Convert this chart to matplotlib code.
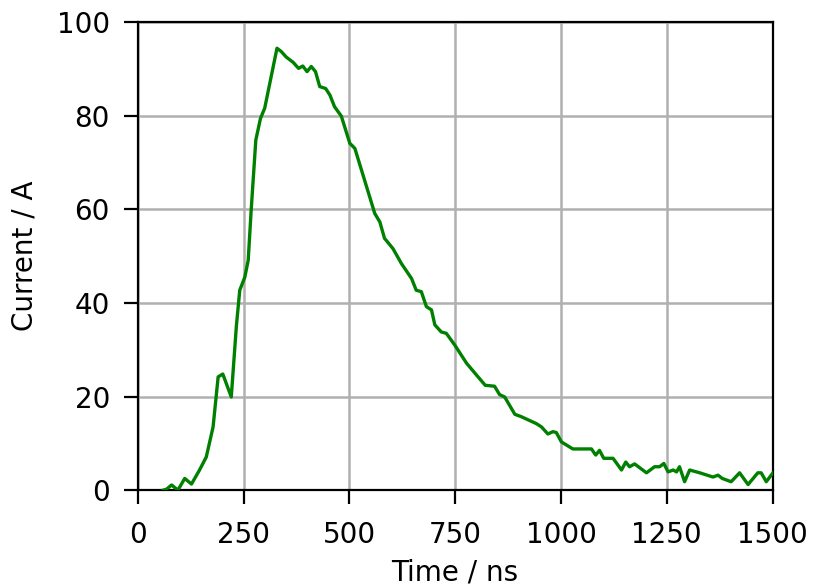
import numpy as np
import matplotlib
matplotlib.use("Agg")
import matplotlib.pyplot as plt

# pulse current
time_ns = [60, 68, 80, 95, 111, 127, 146, 162, 178, 190, 201, 221, 233, 241, 253,
           261, 268, 279, 290, 300, 312, 329, 339, 351, 367, 380, 390, 400, 410,
           420, 430, 444, 454, 465, 481, 501, 513, 536, 560, 572, 583, 603, 623,
           647, 658, 670, 682, 694, 702, 717, 729, 749, 777, 804, 821, 843, 855,
           867, 891, 906, 942, 954, 969, 981, 989, 1001, 1028, 1072, 1082, 1091,
           1101, 1123, 1143, 1153, 1162, 1174, 1202, 1221, 1233, 1243, 1253, 1265,
           1273, 1280, 1292, 1304, 1328, 1359, 1371, 1381, 1402, 1422, 1442, 1465,
           1473, 1485, 1500]
current_a = [0.0, 0.2, 1.1, 0.0, 2.5, 1.3, 4.3, 7.1, 13.5, 24.2, 24.8, 19.9, 35.0,
             42.7, 45.5, 49.1, 59.8, 74.8, 79.4, 81.6, 86.9, 94.4, 93.7, 92.5, 91.4,
             90.1, 90.6, 89.4, 90.5, 89.4, 86.2, 85.8, 84.4, 81.9, 79.9, 74.1, 73.0,
             66.2, 59.1, 57.3, 53.8, 51.6, 48.4, 45.2, 42.7, 42.4, 39.2, 38.5, 35.3,
             33.8, 33.5, 31.0, 27.1, 24.2, 22.4, 22.2, 20.4, 19.9, 16.2, 15.7, 14.2,
             13.5, 12.0, 12.5, 12.3, 10.3, 8.8, 8.8, 7.5, 8.5, 6.8, 6.8, 4.3, 6.0,
             5.0, 5.6, 3.7, 5.0, 5.0, 5.7, 3.9, 4.3, 3.9, 5.0, 1.8, 4.3, 3.7, 2.8,
             3.2, 2.5, 1.8, 3.7, 1.2, 3.7, 3.7, 1.8, 3.6]

fig = plt.figure(figsize=(8.15, 5.87), dpi=100)
ax = fig.add_axes([0.169, 0.165, 0.779, 0.7975])

ax.plot(time_ns, current_a, color='green', linewidth=2.4, zorder=3)

ax.set_xlim(0, 1500)
ax.set_ylim(0, 100)
ax.set_xticks(np.arange(0, 1501, 250))
ax.set_yticks(np.arange(0, 101, 20))
ax.grid(True, color='#b0b0b0', linewidth=1.8)
ax.set_axisbelow(True)

for s in ax.spines.values():
    s.set_linewidth(1.6)
ax.tick_params(direction='out', length=10, width=1.6, pad=10, labelsize=20)
ax.tick_params(axis='x', pad=12)

ax.set_xlabel('Time / ns', fontsize=20, labelpad=7)
ax.set_ylabel('Current / A', fontsize=20, labelpad=13)

fig.savefig('out.png', dpi=100)
